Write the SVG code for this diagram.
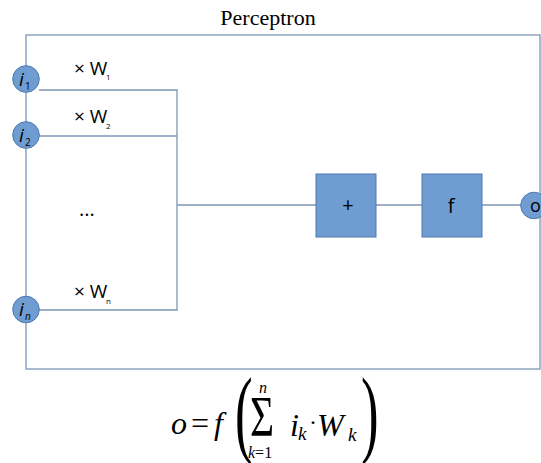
<svg xmlns="http://www.w3.org/2000/svg" width="541" height="463" viewBox="0 0 541 463">
<style>
.ln{stroke:#7f97b6;stroke-width:1.3;fill:none}
.nd{fill:#6f9dd2;stroke:#4f79ad;stroke-width:1}
.sans{font-family:"Open Sans","Liberation Sans",sans-serif;fill:#000}
.ser{font-family:"Liberation Serif","DejaVu Serif",serif;fill:#000}
.it{font-style:italic}
</style>
<rect width="541" height="463" fill="#fff"/>
<text class="ser" x="268" y="25" font-size="22" text-anchor="middle">Perceptron</text>
<g id="connectors">
<rect class="ln" x="26" y="35" width="514" height="334"/>
<polyline class="ln" points="39,90 177,90 177,310 39,310"/>
<line class="ln" x1="39" y1="136" x2="177" y2="136"/>
<line class="ln" x1="177" y1="205" x2="316" y2="205"/>
<line class="ln" x1="376" y1="205" x2="422" y2="205"/>
<line class="ln" x1="482" y1="205" x2="521" y2="205"/>
</g>
<g id="w1"><text class="sans" x="74" y="75" font-size="19">× W</text><text class="sans" x="106" y="80" font-size="8">1</text></g>
<g id="w2"><text class="sans" x="74" y="123" font-size="19">× W</text><text class="sans" x="106" y="129" font-size="8">2</text></g>
<g id="dots"><text class="sans" x="79" y="216" font-size="20">...</text></g>
<g id="wn"><text class="sans" x="74" y="298" font-size="19">× W</text><text class="sans" x="106" y="304" font-size="8">n</text></g>
<g id="i1"><circle class="nd" cx="26" cy="79" r="13.3"/><text class="sans it" x="19" y="86" font-size="19">i</text><text class="sans" x="25" y="90" font-size="10">1</text></g>
<g id="i2"><circle class="nd" cx="26" cy="135" r="13.3"/><text class="sans it" x="19" y="142" font-size="19">i</text><text class="sans" x="25" y="146" font-size="10">2</text></g>
<g id="in"><circle class="nd" cx="26" cy="309.5" r="13.3"/><text class="sans it" x="19" y="316" font-size="19">i</text><text class="sans it" x="25" y="320" font-size="10">n</text></g>
<g id="sum"><rect class="nd" x="316" y="174" width="60" height="63"/><text class="sans" x="348" y="212" font-size="20" text-anchor="middle">+</text></g>
<g id="f"><rect class="nd" x="422" y="174" width="60" height="63"/><text class="sans" x="451" y="213" font-size="20" text-anchor="middle">f</text></g>
<g id="o"><circle class="nd" cx="534" cy="205.5" r="13.3"/><text class="sans" x="530" y="212" font-size="18">o</text></g>
<g id="formula">
<text class="ser it" x="171" y="434" font-size="32">o</text>
<text class="ser" x="191" y="434" font-size="32">=</text>
<text class="ser it" x="214" y="434" font-size="32">f</text>
<text class="ser" font-size="48" transform="translate(235,444.6) scale(1.1,2.03)">(</text>
<text class="ser" font-size="46" transform="translate(250,436) scale(0.9,1.25)">Σ</text>
<text class="ser it" x="259" y="393" font-size="16">n</text>
<text class="ser" x="248" y="458" font-size="16"><tspan font-style="italic">k</tspan>=1</text>
<text class="ser it" x="290" y="436" font-size="32">i</text>
<text class="ser it" x="298" y="440" font-size="19">k</text>
<text class="ser" x="309" y="430" font-size="24">·</text>
<text class="ser it" x="317" y="436" font-size="32">W</text>
<text class="ser it" x="348" y="441" font-size="19">k</text>
<text class="ser" font-size="48" transform="translate(361,444.6) scale(1.1,2.03)">)</text>
</g>
</svg>
